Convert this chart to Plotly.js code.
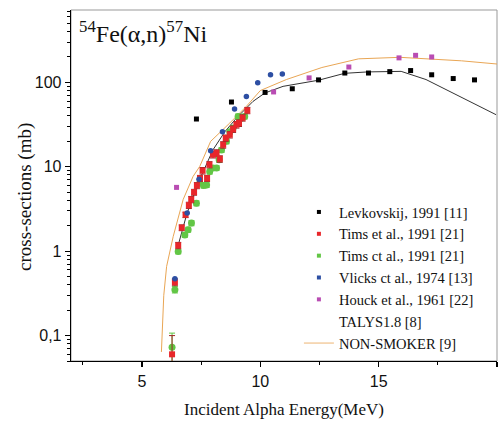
<!DOCTYPE html>
<html>
<head>
<meta charset="utf-8">
<script src="https://cdn.plot.ly/plotly-3.0.1.min.js"></script>
<style>html,body{margin:0;padding:0;background:#fff;}#chart{width:504px;height:421px;}</style>
</head>
<body>
<div id="chart"></div>
<script>
// Levkovskij, 1991 [11]
const levE = [7.30, 8.78, 10.20, 11.35, 12.46, 13.57, 14.57, 15.47, 16.35, 17.24, 18.15, 19.05];
const levS = [36.8, 58.5, 76, 84, 107, 129, 129, 134, 138, 123, 111, 107];

// Tims et al., 1991 [21] (red)
const timsRedE = [6.27, 6.39, 6.53, 6.68, 6.84, 6.98, 7.08, 7.20, 7.32, 7.45, 7.56, 7.75, 7.85, 8.00, 8.15, 8.29, 8.43, 8.54, 8.71, 8.85, 8.99, 9.10, 9.25, 9.45];
const timsRedS = [0.06, 0.43, 1.17, 1.9, 2.7, 3.5, 4.1, 5.0, 6.0, 7.3, 9.0, 7.3, 10.6, 13.9, 14.6, 12.4, 18.2, 21.9, 24, 28, 31.5, 33, 38, 46.5];
const timsRedErr = [0.04, 0.04, 0.1, 0.15, 0.2, 0.3, 0.35, 0.4, 0.5, 0.6, 0.8, 0.6, 0.9, 1.2, 1.3, 1.1, 1.6, 1.9, 2.1, 2.5, 2.8, 3.0, 3.3, 4.0];

// Tims et al., 1991 [21] (green)
const timsGreenE = [6.27, 6.39, 6.53, 6.81, 6.95, 7.09, 7.30, 7.44, 7.60, 7.73, 7.86, 8.00, 8.15, 8.26, 8.36, 8.57, 8.71, 8.85, 9.06, 9.20, 9.34];
const timsGreenS = [0.073, 0.35, 0.99, 1.56, 1.8, 2.15, 3.7, 6.4, 6.0, 6.1, 8.8, 9.7, 9.7, 12.1, 15.8, 20, 26, 28.8, 39.5, 37.9, 39.5];
const timsGreenErr = [0.034, 0.03, 0.06, 0.1, 0.12, 0.15, 0.25, 0.4, 0.4, 0.4, 0.6, 0.6, 0.6, 0.8, 1.0, 1.3, 1.7, 1.9, 2.6, 2.5, 2.6];

// Vlicks et al., 1974 [13]
const vliE = [6.39, 6.91, 7.41, 7.90, 8.40, 8.91, 9.41, 9.89, 10.43, 10.93];
const vliS = [0.47, 2.83, 7.1, 15.5, 26, 48.5, 68, 99, 123, 126];
const vliErrE = [0.1, 0.1, 0.1, 0.1, 0.1, 0.1, 0.1, 0.1, 0.1, 0.1];

// Houck et al., 1961 [22]
const houE = [6.46, 10.56, 12.06, 13.74, 15.86, 16.56, 17.24];
const houS = [5.7, 77, 113, 152, 195, 209, 200];

// TALYS1.8 [8]
const talE = [6.5, 6.9, 7.4, 8.0, 8.5, 9.0, 9.69, 10.19, 10.96, 12.46, 13.56, 14.53, 15.95, 17.0, 19.96];
const talS = [1.1, 2.8, 6.7, 15.9, 26, 38, 59.5, 74.8, 89.7, 106, 128, 133, 135, 108, 41.4];

// NON-SMOKER [9]
const nsE = [5.82, 5.86, 5.92, 6.04, 6.32, 6.74, 7.16, 7.44, 7.90, 8.71, 9.41, 10.0, 11.1, 12.6, 14.15, 15.9, 17.3, 18.5, 20.0];
const nsS = [0.064, 0.15, 0.3, 0.66, 1.5, 4.1, 7.7, 10.1, 20, 33, 52, 80, 108, 150, 190, 198, 190, 180, 165];

// legend labels
const legendNames = ['Levkovskij, 1991 [11]', 'Tims et al., 1991 [21]', 'Tims ct al., 1991 [21]',
  'Vlicks ct al., 1974 [13]', 'Houck et al., 1961 [22]', 'TALYS1.8 [8]', 'NON-SMOKER [9]'];

const serif = 'Liberation Serif, Times New Roman, serif';
const sans = 'Liberation Sans, Arial, sans-serif';

const cBlack = '#000000', cRed = '#E8262A', cGreen = '#62C645', cBlue = '#2D4FA3', cMag = '#B94DB3', cOrange = '#E9A655';

function legendOnly(name, rank, color, isLine) {
  const t = {x: [null], y: [null], name: name, legendrank: rank, showlegend: true, hoverinfo: 'skip'};
  if (isLine) { t.mode = 'lines'; t.line = {color: color, width: 1.2}; }
  else { t.mode = 'markers'; t.marker = {symbol: 'square', size: 4, color: color}; }
  return t;
}

const traces = [
  {x: nsE, y: nsS, mode: 'lines', showlegend: false, line: {color: cOrange, width: 1}},
  {x: talE, y: talS, mode: 'lines', showlegend: false, line: {color: '#333333', width: 1}},
  {x: timsGreenE, y: timsGreenS, mode: 'markers', showlegend: false,
   marker: {symbol: 'circle', size: 7, color: cGreen},
   error_y: {type: 'data', array: timsGreenErr, visible: true, color: cGreen, thickness: 1, width: 3}},
  {x: timsRedE, y: timsRedS, mode: 'markers', showlegend: false,
   marker: {symbol: 'square', size: 6, color: cRed},
   error_y: {type: 'data', array: timsRedErr, visible: true, color: '#A02828', thickness: 1, width: 3}},
  {x: vliE, y: vliS, mode: 'markers', showlegend: false,
   marker: {symbol: 'circle', size: 5.5, color: cBlue},
   error_x: {type: 'data', array: vliErrE, visible: true, color: cBlue, thickness: 1.5, width: 0}},
  {x: houE, y: houS, mode: 'markers', showlegend: false,
   marker: {symbol: 'square', size: 5, color: cMag}},
  {x: levE, y: levS, mode: 'markers', showlegend: false,
   marker: {symbol: 'square', size: 5, color: cBlack}},
  legendOnly(legendNames[0], 1, cBlack, false),
  legendOnly(legendNames[1], 2, cRed, false),
  legendOnly(legendNames[2], 3, cGreen, false),
  legendOnly(legendNames[3], 4, cBlue, false),
  legendOnly(legendNames[4], 5, cMag, false),
  legendOnly(legendNames[5], 6, 'rgba(0,0,0,0)', true),
  legendOnly(legendNames[6], 7, '#F0C08A', true)
];

const layout = {
  width: 504, height: 421,
  margin: {l: 71, r: 7, t: 10, b: 60, pad: 0},
  paper_bgcolor: '#ffffff', plot_bgcolor: '#ffffff',
  separators: ',.',
  showlegend: true,
  legend: {x: 0.535, y: 0.47, xanchor: 'left', yanchor: 'top',
    bgcolor: 'rgba(0,0,0,0)', borderwidth: 0, traceorder: 'normal',
    font: {family: serif, size: 14.5, color: '#111'}},
  xaxis: {
    range: [2, 20], dtick: 5, tick0: 0,
    ticks: 'outside', ticklen: 5, tickwidth: 1.3, tickcolor: '#000',
    minor: {dtick: 2.5, tick0: 0, ticks: 'outside', ticklen: 3, tickwidth: 1, tickcolor: '#000', showgrid: false},
    showgrid: false, zeroline: false, showline: true, linecolor: '#000', linewidth: 1.3,
    tickfont: {family: sans, size: 16, color: '#111'},
    title: {text: 'Incident Alpha Energy(MeV)', font: {family: serif, size: 17, color: '#111'}, standoff: 14}
  },
  yaxis: {
    type: 'log', range: [Math.log10(0.05), Math.log10(720)], dtick: 1,
    ticks: 'outside', ticklen: 5, tickwidth: 1.3, tickcolor: '#000',
    minor: {dtick: 'D1', ticks: 'outside', ticklen: 3, tickwidth: 1, tickcolor: '#000', showgrid: false},
    showgrid: false, zeroline: false, showline: true, linecolor: '#000', linewidth: 1.3,
    tickfont: {family: sans, size: 16, color: '#111'}
  },
  shapes: [
    {type: 'rect', xref: 'paper', yref: 'paper', x0: 0, x1: 1, y0: 0, y1: 1,
     line: {color: '#999999', width: 1}, layer: 'below'}
  ],
  annotations: [
    {xref: 'paper', yref: 'paper', x: 0.014, y: 0.985, xanchor: 'left', yanchor: 'top', showarrow: false,
     text: '<sup>54</sup>Fe(α,n)<sup>57</sup>Ni', font: {family: serif, size: 24, color: '#111'}},
    {xref: 'paper', yref: 'paper', x: -71 / 426 + 25 / 426, y: (361 - 197) / 351, xanchor: 'center', yanchor: 'middle',
     showarrow: false, textangle: -90,
     text: 'cross-sections (mb)', font: {family: serif, size: 19, color: '#111'}}
  ]
};

Plotly.newPlot('chart', traces, layout, {displayModeBar: false, staticPlot: true});
</script>
</body>
</html>
